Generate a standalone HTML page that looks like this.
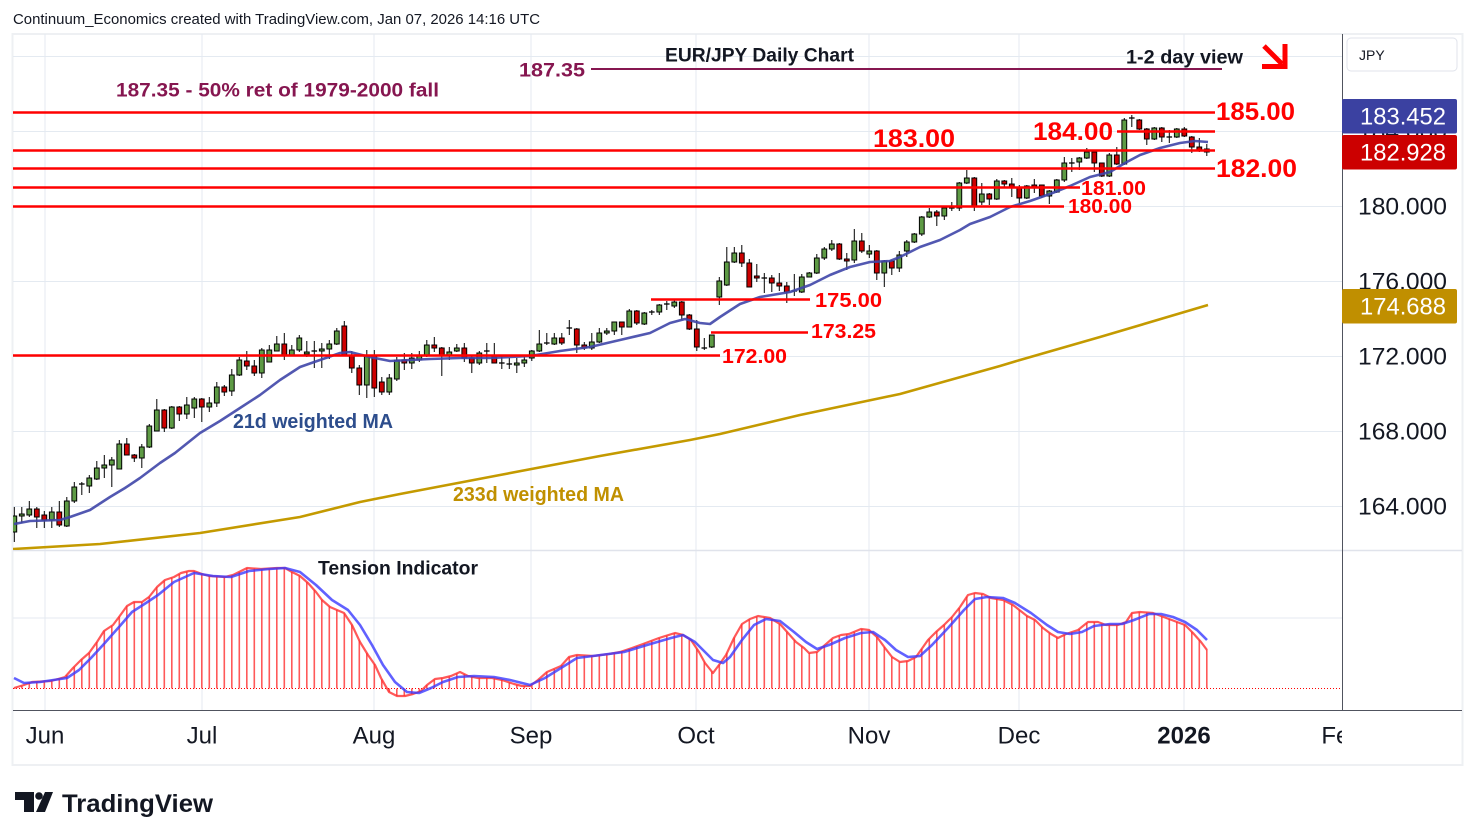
<!DOCTYPE html>
<html><head><meta charset="utf-8">
<style>
html,body{margin:0;padding:0;background:#fff;width:1475px;height:840px;overflow:hidden;}
svg{display:block;font-family:"Liberation Sans",sans-serif;}
</style></head>
<body>
<svg id="c" width="1475" height="840" viewBox="0 0 1475 840" xmlns="http://www.w3.org/2000/svg">
<defs>
<clipPath id="cp"><rect x="13" y="34" width="1329" height="516"/></clipPath>
<clipPath id="ci"><rect x="13" y="550" width="1329" height="160"/></clipPath>
<clipPath id="ct"><rect x="13" y="711" width="1329" height="54"/></clipPath>
</defs>
<rect width="1475" height="840" fill="#fff"/>
<text x="13" y="24" font-size="14.5" fill="#131722" textLength="527" lengthAdjust="spacingAndGlyphs">Continuum_Economics created with TradingView.com, Jan 07, 2026 14:16 UTC</text>

<!-- frame -->
<rect x="12.5" y="34" width="1450" height="731" fill="none" stroke="#eef0f3" stroke-width="2"/>

<!-- grid -->
<g stroke="#e4eaf1" stroke-width="1">
<line x1="13" y1="56.5" x2="1342" y2="56.5"/>
<line x1="13" y1="131.5" x2="1342" y2="131.5"/>
<line x1="13" y1="206.5" x2="1342" y2="206.5"/>
<line x1="13" y1="281.5" x2="1342" y2="281.5"/>
<line x1="13" y1="356.5" x2="1342" y2="356.5"/>
<line x1="13" y1="431.5" x2="1342" y2="431.5"/>
<line x1="13" y1="506.5" x2="1342" y2="506.5"/>
<line x1="13" y1="618" x2="1342" y2="618"/>
<line x1="45" y1="34" x2="45" y2="710"/>
<line x1="202" y1="34" x2="202" y2="710"/>
<line x1="374" y1="34" x2="374" y2="710"/>
<line x1="531" y1="34" x2="531" y2="710"/>
<line x1="696" y1="34" x2="696" y2="710"/>
<line x1="869" y1="34" x2="869" y2="710"/>
<line x1="1019" y1="34" x2="1019" y2="710"/>
<line x1="1184" y1="34" x2="1184" y2="710"/>
</g>
<line x1="13" y1="550.5" x2="1462" y2="550.5" stroke="#e0e3eb" stroke-width="1.5"/>

<!-- price pane -->
<g clip-path="url(#cp)">
<g id="candles"></g>
<polyline id="ma233" fill="none" stroke="#c49a00" stroke-width="2.6" stroke-linejoin="round"/>
<polyline id="ma21" fill="none" stroke="#3f46a8" stroke-width="2.6" stroke-linejoin="round" stroke-opacity="0.9"/>
</g>

<!-- drawings -->
<g stroke="#ff0000" stroke-width="2.5">
<line x1="13" y1="112.5" x2="1215" y2="112.5"/>
<line x1="1117" y1="131.5" x2="1215" y2="131.5"/>
<line x1="13" y1="150.5" x2="1215" y2="150.5"/>
<line x1="13" y1="168.5" x2="1215" y2="168.5"/>
<line x1="13" y1="187.5" x2="1080" y2="187.5"/>
<line x1="13" y1="206.5" x2="1064" y2="206.5"/>
<line x1="651" y1="299.5" x2="810" y2="299.5"/>
<line x1="711" y1="332.5" x2="808" y2="332.5"/>
<line x1="13" y1="355.5" x2="720" y2="355.5"/>
</g>
<line x1="591" y1="69" x2="1222" y2="69" stroke="#861650" stroke-width="2"/>

<g font-weight="bold" fill="#ff0000" lengthAdjust="spacingAndGlyphs">
<text x="1216" y="120" font-size="25" textLength="79" lengthAdjust="spacingAndGlyphs">185.00</text>
<text x="1033" y="140" font-size="25" textLength="80" lengthAdjust="spacingAndGlyphs">184.00</text>
<text x="873" y="147" font-size="25" textLength="82" lengthAdjust="spacingAndGlyphs">183.00</text>
<text x="1216" y="177" font-size="25" textLength="81" lengthAdjust="spacingAndGlyphs">182.00</text>
<text x="1081" y="195" font-size="20" textLength="65" lengthAdjust="spacingAndGlyphs">181.00</text>
<text x="1068" y="213" font-size="20" textLength="64" lengthAdjust="spacingAndGlyphs">180.00</text>
<text x="815" y="307" font-size="20" textLength="67" lengthAdjust="spacingAndGlyphs">175.00</text>
<text x="811" y="338" font-size="20" textLength="65" lengthAdjust="spacingAndGlyphs">173.25</text>
<text x="722" y="363" font-size="20" textLength="65" lengthAdjust="spacingAndGlyphs">172.00</text>
</g>

<g font-weight="bold">
<text x="665" y="61.5" font-size="19" fill="#131722" textLength="189" lengthAdjust="spacingAndGlyphs">EUR/JPY Daily Chart</text>
<text x="1126" y="63.5" font-size="19" fill="#131722" textLength="117" lengthAdjust="spacingAndGlyphs">1-2 day view</text>
<text x="519" y="76.5" font-size="19" fill="#861650" textLength="66" lengthAdjust="spacingAndGlyphs">187.35</text>
<text x="116" y="96.5" font-size="19" fill="#861650" textLength="323" lengthAdjust="spacingAndGlyphs">187.35 - 50% ret of 1979-2000 fall</text>
<text x="233" y="428" font-size="20" fill="#2d4d8c" textLength="160" lengthAdjust="spacingAndGlyphs">21d weighted MA</text>
<text x="453" y="501" font-size="20" fill="#c09000" textLength="171" lengthAdjust="spacingAndGlyphs">233d weighted MA</text>
<text x="318" y="574.5" font-size="19" fill="#131722" textLength="160" lengthAdjust="spacingAndGlyphs">Tension Indicator</text>
</g>

<!-- arrow -->
<g stroke="#ff0000" stroke-width="5" fill="none" stroke-linecap="butt" stroke-linejoin="miter">
<line x1="1264" y1="46" x2="1282" y2="64"/>
<polyline points="1285,44 1285,66.5 1262,66.5"/>
</g>

<!-- indicator pane -->
<g clip-path="url(#ci)">
<g id="hist"></g>
<line x1="13" y1="688.5" x2="1342" y2="688.5" stroke="#ff0000" stroke-width="1" stroke-dasharray="1,2"/>
<polyline id="redI" fill="none" stroke="#ff3030" stroke-opacity="0.8" stroke-width="2.2" stroke-linejoin="round"/>
<polyline id="blueI" fill="none" stroke="#3a3aff" stroke-opacity="0.8" stroke-width="2.6" stroke-linejoin="round"/>
</g>

<!-- axes separators -->
<line x1="1342.5" y1="34" x2="1342.5" y2="710" stroke="#50535e" stroke-width="1"/>
<line x1="13" y1="710.5" x2="1462" y2="710.5" stroke="#50535e" stroke-width="1"/>

<!-- right axis -->
<g font-size="24" fill="#131722">
<text x="1358" y="139.5" textLength="89" lengthAdjust="spacingAndGlyphs">184.000</text>
<text x="1358" y="214.5" textLength="89" lengthAdjust="spacingAndGlyphs">180.000</text>
<text x="1358" y="289.5" textLength="89" lengthAdjust="spacingAndGlyphs">176.000</text>
<text x="1358" y="364.5" textLength="89" lengthAdjust="spacingAndGlyphs">172.000</text>
<text x="1358" y="439.5" textLength="89" lengthAdjust="spacingAndGlyphs">168.000</text>
<text x="1358" y="514.5" textLength="89" lengthAdjust="spacingAndGlyphs">164.000</text>
</g>
<rect x="1347" y="38" width="110" height="33" rx="4" fill="#fff" stroke="#e0e3eb"/>
<text x="1359" y="60" font-size="14" fill="#131722">JPY</text>

<rect x="1342" y="99" width="115" height="34.5" rx="2" fill="#3b41a1"/>
<rect x="1342" y="135" width="115" height="34.5" rx="2" fill="#cc0000"/>
<rect x="1342" y="289" width="115" height="34.5" rx="2" fill="#c08f00"/>
<g font-size="24" fill="#fff">
<text x="1360" y="124.5" textLength="86" lengthAdjust="spacingAndGlyphs">183.452</text>
<text x="1360" y="160.5" textLength="86" lengthAdjust="spacingAndGlyphs">182.928</text>
<text x="1360" y="314.5" textLength="86" lengthAdjust="spacingAndGlyphs">174.688</text>
</g>

<!-- time axis -->
<g font-size="24" fill="#131722" text-anchor="middle" clip-path="url(#ct)">
<text x="45" y="743.5">Jun</text>
<text x="202" y="743.5">Jul</text>
<text x="374" y="743.5">Aug</text>
<text x="531" y="743.5">Sep</text>
<text x="696" y="743.5">Oct</text>
<text x="869" y="743.5">Nov</text>
<text x="1019" y="743.5">Dec</text>
<text x="1184" y="743.5" font-weight="bold">2026</text>
<text x="1342" y="743.5">Feb</text>
</g>

<!-- TradingView logo -->
<g fill="#131722">
<path d="M15,792 H34 V812 H24 V800 H15 Z"/>
<circle cx="39" cy="796" r="3.8"/>
<path d="M45,792 H53 L45,812 H36 Z"/>
<text x="62" y="812" font-size="25" font-weight="bold" textLength="151" lengthAdjust="spacingAndGlyphs">TradingView</text>
</g>
</svg>

<script>
(function(){
var C=[[532,516,507,542],[516,514,507,523],[515,509,501,517],[509,517,507,528],[515,520,511,528],[520,512,507,528],[512,525,501,527],[526,501,497,527],[501,487,482,503],[485,484,482,495],
[486,478,475,493],[479,468,461,480],[468,465,455,478],[465,460,457,487],[469,444,440,469],[444,455,438,455],[455,458,454,462],[458,447,444,468],[447,426,424,448],[431,410,399,431],
[410,428,409,432],[428,407,406,429],[407,414,406,421],[414,405,397,419],[408,399,397,418],[399,407,398,422],[407,403,397,412],[403,387,382,407],[387,392,385,396],[391,375,369,396],
[375,360,357,376],[361,366,351,370],[366,373,360,376],[373,350,348,378],[362,350,345,362],[351,344,336,351],[344,355,333,360],[355,350,345,356],[350,338,335,352],[354,352,341,357],
[352,351,341,368],[351,349,343,368],[349,344,340,359],[344,331,328,345],[326,355,321,356],[356,368,351,373],[368,385,365,395],[385,356,350,398],[356,388,350,397],[382,392,377,395],
[392,378,374,395],[379,360,357,381],[360,363,353,370],[363,358,353,369],[360,356,351,362],[356,345,340,357],[345,348,337,352],[348,355,347,376],[355,352,347,360],[351,348,344,352],
[348,358,343,362],[358,363,356,373],[363,353,351,365],[352,351,343,363],[357,363,343,363],[363,364,355,369],[364,364,358,369],[365,363,358,373],[363,360,357,367],[358,351,350,361],
[351,344,330,352],[343,343,333,345],[344,338,333,345],[338,343,333,345],[328,328,320,335],[329,345,328,353],[345,348,342,350],[348,342,333,350],[342,333,328,343],[333,331,328,335],
[331,322,322,335],[322,327,322,335],[327,311,309,327],[311,323,310,325],[324,313,312,325],[312,312,310,315],[312,305,304,315],[304,304,301,310],[306,302,299,308],[302,315,301,320],
[315,329,314,330],[329,347,320,351],[348,348,338,350],[347,335,335,348],[297,281,277,305],[285,262,247,286],[262,253,247,263],[253,263,245,267],[263,287,259,287],[276,278,264,282],
[278,278,273,293],[278,283,275,292],[283,286,273,291],[286,292,282,303],[291,291,274,296],[292,277,274,293],[277,273,272,277],[273,258,254,274],[258,249,247,260],[249,244,240,251],
[244,259,243,260],[259,261,253,270],[260,241,229,263],[241,251,233,253],[254,251,245,258],[251,273,250,280],[273,261,260,287],[261,268,260,275],[268,255,251,272],[251,242,240,257],
[242,234,233,243],[234,217,216,236],[217,212,208,218],[212,216,210,226],[216,208,208,220],[208,208,202,211],[208,183,182,211],[183,178,170,184],[178,207,177,211],[202,194,183,205],
[194,199,193,205],[199,181,179,200],[181,184,180,188],[184,188,178,197],[188,198,185,203],[198,186,185,199],[185,187,179,193],[185,196,185,198],[196,191,190,204],[192,180,179,193],
[180,163,157,182],[163,163,158,172],[162,158,157,170],[158,152,148,159],[152,163,152,172],[163,176,163,177],[176,155,153,177],[155,164,147,165],[164,120,118,165],[118,118,115,127],
[120,129,119,130],[129,139,128,145],[139,128,127,140],[128,137,127,142],[137,137,130,143],[137,129,128,138],[129,136,127,137],[137,147,136,153],[147,150,138,152],[149,152,144,156]];
var s='';
for(var i=0;i<C.length;i++){
 var x=14.3+7.5*i,o=C[i][0],c=C[i][1],h=C[i][2],l=C[i][3];
 var t=Math.min(o,c),b=Math.max(o,c);
 s+='<line x1="'+x+'" y1="'+h+'" x2="'+x+'" y2="'+l+'" stroke="#000" stroke-width="1"/>';
 if(b-t<1.5){s+='<line x1="'+(x-2.8)+'" y1="'+t+'" x2="'+(x+2.8)+'" y2="'+t+'" stroke="#000" stroke-width="1.3"/>';}
 else{s+='<rect x="'+(x-2.4)+'" y="'+t+'" width="4.8" height="'+(b-t)+'" fill="'+(c<o?'#5e9b45':'#cc0000')+'" stroke="#000" stroke-width="1"/>';}
}
document.getElementById('candles').innerHTML=s;

function pts(a){return a.map(function(p){return p[0]+','+p[1];}).join(' ');}
var ma21=[[14,524],[30,521],[60,520],[70,517],[90,510],[110,497],[125,488],[140,478],[160,463],[175,453],[200,433],[220,421],[240,408],[260,395],[280,380],[300,367],[320,360],[340,353],[350,352],[370,357],[390,361],[410,360],[430,359],[460,358],[490,358],[530,356],[560,351],[590,347],[620,340],[650,333],[670,323],[685,319],[700,323],[710,324],[720,317],[740,304],[760,297],[790,292],[810,285],[830,275],[850,267],[870,262],[890,261],[900,257],[920,247],[940,240],[960,230],[970,224],[990,217],[1010,207],[1030,201],[1050,194],[1070,186],[1090,177],[1110,172],[1125,163],[1140,155],[1160,148],[1180,143],[1195,141],[1208,142]];
var ma233=[[13,549],[100,544],[200,533],[300,517],[360,502],[400,494],[500,475],[600,456],[690,440],[720,434],[800,415],[900,394],[1000,366],[1020,360],[1100,337],[1208,305]];
document.getElementById('ma21').setAttribute('points',pts(ma21));
document.getElementById('ma233').setAttribute('points',pts(ma233));

var R=[[14,688],[24,685],[32,682],[51,681],[65,677],[73,668],[81,660],[89,653],[97,642],[104,631],[113,625],[119,617],[127,606],[134,602],[142,602],[149,597],[157,587],[165,580],[174,577],[181,573],[189,571],[194,571],[202,574],[209,576],[225,577],[233,575],[247,568],[261,569],[277,568],[285,568],[292,572],[300,576],[308,583],[316,592],[322,600],[330,607],[344,613],[352,625],[360,642],[368,655],[375,665],[381,678],[389,692],[397,696],[405,696],[413,694],[421,691],[427,685],[435,679],[443,678],[451,676],[460,672],[468,676],[478,678],[492,678],[502,680],[514,684],[522,686],[530,686],[538,680],[547,672],[561,666],[569,657],[577,655],[593,656],[609,654],[620,652],[632,648],[643,644],[659,638],[675,633],[683,635],[691,640],[699,652],[705,663],[713,673],[719,665],[726,655],[734,638],[742,624],[750,619],[758,616],[770,618],[780,624],[788,633],[796,642],[804,648],[809,653],[817,652],[825,645],[833,638],[841,635],[849,634],[861,629],[869,630],[877,637],[885,648],[892,657],[900,662],[908,661],[916,657],[928,640],[936,632],[944,625],[952,617],[960,607],[968,595],[975,593],[983,594],[991,598],[1003,600],[1013,605],[1027,616],[1035,620],[1043,628],[1051,634],[1058,638],[1066,634],[1078,630],[1088,622],[1098,622],[1106,625],[1118,625],[1126,622],[1132,613],[1140,612],[1153,613],[1161,616],[1169,619],[1177,622],[1185,625],[1193,633],[1201,642],[1207,650]];
var B=[[14,678],[24,683],[40,682],[67,678],[79,670],[91,658],[103,645],[119,627],[132,612],[146,603],[158,595],[174,582],[194,573],[213,576],[231,577],[249,571],[269,569],[285,568],[300,572],[316,585],[332,600],[348,610],[360,625],[372,645],[383,665],[395,682],[407,692],[419,693],[431,688],[443,682],[458,677],[474,676],[494,677],[510,680],[530,685],[545,678],[561,668],[577,658],[593,656],[624,652],[647,645],[671,638],[683,635],[695,642],[705,652],[713,660],[723,663],[730,657],[742,640],[754,625],[766,619],[780,621],[794,632],[806,642],[817,649],[829,645],[845,638],[861,633],[873,632],[885,640],[896,650],[908,657],[920,656],[932,645],[948,628],[964,610],[975,599],[987,597],[1003,598],[1015,603],[1031,613],[1047,625],[1058,632],[1070,634],[1082,632],[1094,626],[1110,624],[1122,624],[1134,620],[1149,614],[1161,614],[1173,617],[1185,622],[1197,630],[1207,640]];
document.getElementById('redI').setAttribute('points',pts(R));
document.getElementById('blueI').setAttribute('points',pts(B));
function interp(a,x){
 if(x<=a[0][0])return a[0][1];
 for(var k=1;k<a.length;k++){if(x<=a[k][0]){var p=a[k-1],q=a[k];return p[1]+(q[1]-p[1])*(x-p[0])/(q[0]-p[0]);}}
 return a[a.length-1][1];
}
var h='';
for(var j=0;j<160;j++){
 var xx=14.3+7.5*j;var yy=interp(R,xx);
 h+='<line x1="'+xx+'" y1="688.5" x2="'+xx+'" y2="'+yy.toFixed(1)+'" stroke="#ff3030" stroke-opacity="0.8" stroke-width="1.6"/>';
}
document.getElementById('hist').innerHTML=h;
})();
</script>
</body></html>
